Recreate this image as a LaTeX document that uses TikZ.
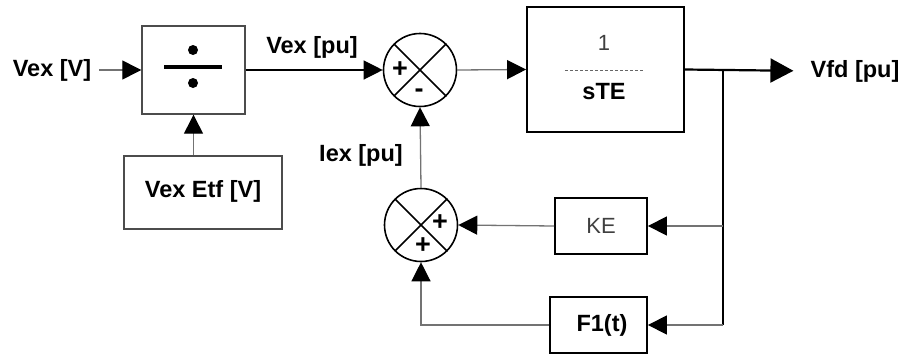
\documentclass[tikz,border=0pt]{standalone}
\usepackage{fontspec}
\setmainfont{Liberation Sans}
\usetikzlibrary{arrows.meta}
\begin{document}
\begin{tikzpicture}[x=1pt,y=-1pt,
  lbl/.style={font=\fontsize{23.5}{27}\selectfont\bfseries, inner sep=0pt},
  reg/.style={font=\fontsize{22}{26}\selectfont, text=black!75, inner sep=0pt},
  sgn/.style={font=\fontsize{27}{30}\selectfont\bfseries, inner sep=0pt},
  conn/.style={draw=black!55, line width=1.3pt},
  arr/.style={-{Triangle[length=19pt,width=19pt,color=black]}},
  bigarr/.style={-{Triangle[length=23pt,width=24pt,color=black]}},
  sumj/.style={circle, draw=black, line width=1.6pt, minimum size=73pt, inner sep=0pt},
  blk/.style={draw=black, line width=1.8pt, inner sep=0pt},
  gblk/.style={draw=black!70, line width=1.4pt, inner sep=0pt}
]
\useasboundingbox (0,0) rectangle (901,356);

% blocks
\node[gblk, minimum width=103pt, minimum height=88pt] (div) at (193.5,70) {};
\node[gblk, minimum width=158pt, minimum height=73pt] (etf) at (203,192.5) {};
\node[lbl] (etftxt) at (203,191) {Vex Etf [V]};
\node[blk, minimum width=157pt, minimum height=125pt] (tf) at (605.5,69.5) {};
\node[blk, minimum width=92pt, minimum height=56pt] (ke) at (601,226) {};
\node[reg] (ketxt) at (601,226) {KE};
\node[blk, minimum width=97pt, minimum height=56pt] (f1) at (598.5,325) {};
\node[lbl] (f1txt) at (602,325) {F1(t)};

% divider symbol
\fill[black] (193,50) circle (5pt);
\fill[black] (193,83) circle (5pt);
\draw[line width=3.5pt] (164,67) -- (222,67);

% transfer function contents
\node[reg] (one) at (604,43) {1};
\draw[black!60, line width=1pt, dash pattern=on 3pt off 2pt] (565,70) -- (644,70);
\node[lbl] (ste) at (604,92) {sTE};

% summing junctions
\node[sumj] (s1) at (420,70) {};
\draw[line width=1.6pt] (s1.north west) -- (s1.south east);
\draw[line width=1.6pt] (s1.north east) -- (s1.south west);
\node[sgn] (p1) at (400,70) {+};
\node[sgn] (m1) at (419,93) {-};

\node[sumj] (s2) at (421,225) {};
\draw[line width=1.6pt] (s2.north west) -- (s2.south east);
\draw[line width=1.6pt] (s2.north east) -- (s2.south west);
\node[sgn] (p2) at (440,223) {+};
\node[sgn] (p3) at (423,246) {+};

% labels
\node[lbl] (vin) at (52,70) {Vex [V]};
\node[lbl] (vexpu) at (312,47) {Vex [pu]};
\node[lbl] (iex) at (361,155) {Iex [pu]};
\node[lbl] (vfd) at (855,71) {Vfd [pu]};

% branch points
\coordinate (br) at (723,70);
\coordinate (bk) at (723,226);
\coordinate (bf) at (723,325);

% connectors
\draw[conn, arr, shorten <=8pt] (vin.east) -- (div.west);
\draw[conn, arr] (div.south |- etf.north) -- (div.south);
\draw[black, line width=1.2pt, arr] (div.east) -- (s1.west);
\draw[conn, arr] (s1.east) -- (tf.west);
\draw[black, line width=2.2pt, bigarr, shorten >=17pt] (tf.east) -- (vfd.west);
\draw[black, line width=1.3pt] (br) -- (bf);
\draw[conn, arr] (bk) -- (ke.east);
\draw[conn, arr] (bf) -- (f1.east);
\draw[conn, arr] (ke.west) -- (s2.east);
\draw[conn, arr] (f1.west) -| (s2.south);
\draw[conn, arr] (s2.north) -- (s1.south);
\end{tikzpicture}
\end{document}
